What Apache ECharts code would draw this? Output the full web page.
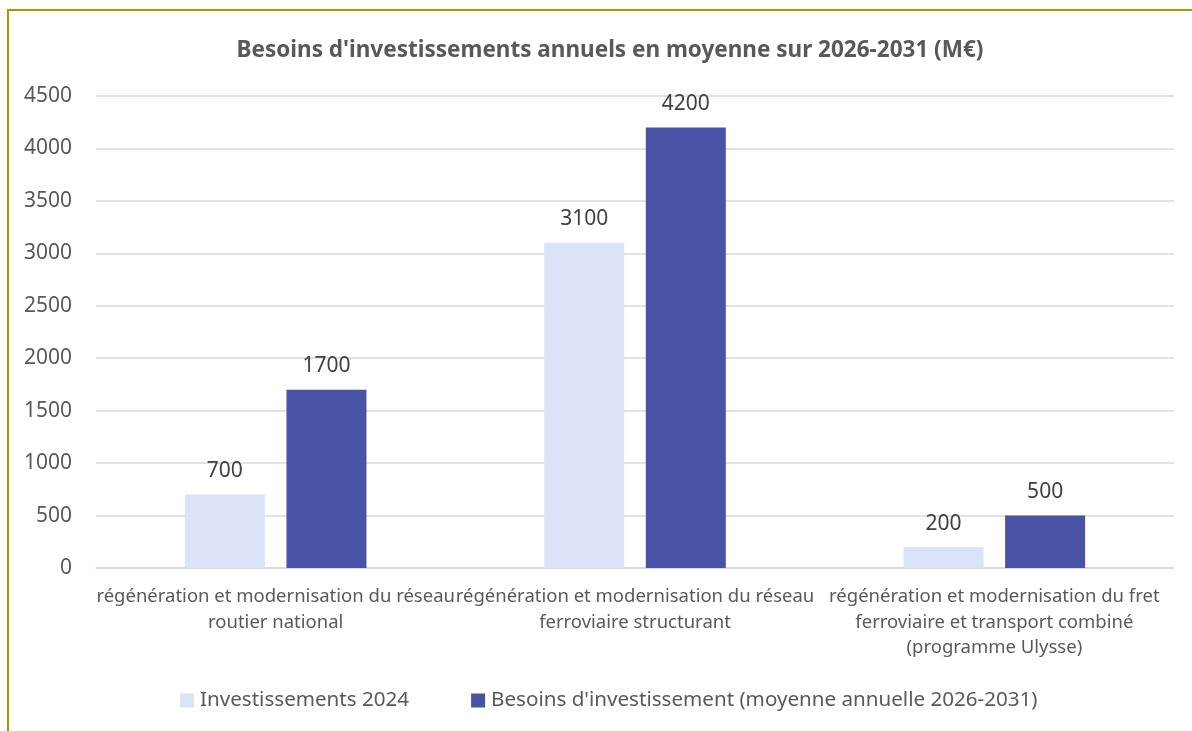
<!DOCTYPE html>
<html>
<head>
<meta charset="utf-8">
<script src="https://cdn.jsdelivr.net/npm/echarts@6/dist/echarts.min.js"></script>
<style>
  html, body { margin: 0; padding: 0; background: #fff; }
  #frame {
    position: absolute; left: 7px; top: 9px; width: 1192px; height: 731px;
    border-left: 2px solid #a39a00; border-top: 2px solid #a39a00;
  }
  #chart { position: absolute; left: 0; top: 0; width: 1192px; height: 731px; }
</style>
</head>
<body>
<div id="frame"></div>
<div id="chart"></div>
<script>
const categories = [
  'régénération et modernisation du réseau\nroutier national',
  'régénération et modernisation du réseau\nferroviaire structurant',
  'régénération et modernisation du fret\nferroviaire et transport combiné\n(programme Ulysse)'
]
const seriesNames = ['Investissements 2024', "Besoins d'investissement (moyenne annuelle 2026-2031)"]
const invest2024 = [700, 3100, 200]
const besoins = [1700, 4200, 500]
const colors = ['#dae3f8', '#4853a5']

const font = 'Noto Sans'
const myChart = echarts.init(document.getElementById('chart'))
const labelStyle = {
  show: true,
  position: 'top',
  distance: 13,
  fontFamily: font,
  fontSize: 21,
  color: '#404040'
}
myChart.setOption({
  animation: false,
  title: {
    text: "Besoins d'investissements annuels en moyenne sur 2026-2031 (M€)",
    left: 605,
    textAlign: 'center',
    top: 34,
    textStyle: { fontFamily: font, fontSize: 22.5, fontWeight: 'bold', color: '#595959' }
  },
  color: colors,
  grid: { left: 96, right: 18, top: 96, bottom: 163, containLabel: false },
  legend: {
    bottom: 15,
    left: 175,
    icon: 'rect',
    itemWidth: 14,
    itemHeight: 14,
    itemGap: 62,
    selectedMode: false,
    textStyle: { fontFamily: font, fontSize: 20.6, color: '#595959', padding: [0, 0, 0, 1] }
  },
  xAxis: {
    type: 'category',
    data: categories,
    axisTick: { show: false },
    axisLine: { lineStyle: { color: '#d9d9d9', width: 1.5 } },
    axisLabel: {
      interval: 0,
      margin: 16,
      lineHeight: 25.5,
      fontFamily: font,
      fontSize: 18.5,
      color: '#595959'
    }
  },
  yAxis: {
    type: 'value',
    min: 0,
    max: 4500,
    interval: 500,
    axisLine: { show: false },
    axisTick: { show: false },
    splitLine: { lineStyle: { color: '#d9d9d9', width: 1.5 } },
    axisLabel: {
      margin: 24,
      fontFamily: font,
      fontSize: 21,
      color: '#595959',
      formatter: v => String(v)
    }
  },
  series: [
    { name: seriesNames[0], type: 'bar', data: invest2024, barWidth: 80, barGap: '27%', label: labelStyle },
    { name: seriesNames[1], type: 'bar', data: besoins, barWidth: 80, barGap: '27%', label: labelStyle }
  ]
})
</script>
</body>
</html>
